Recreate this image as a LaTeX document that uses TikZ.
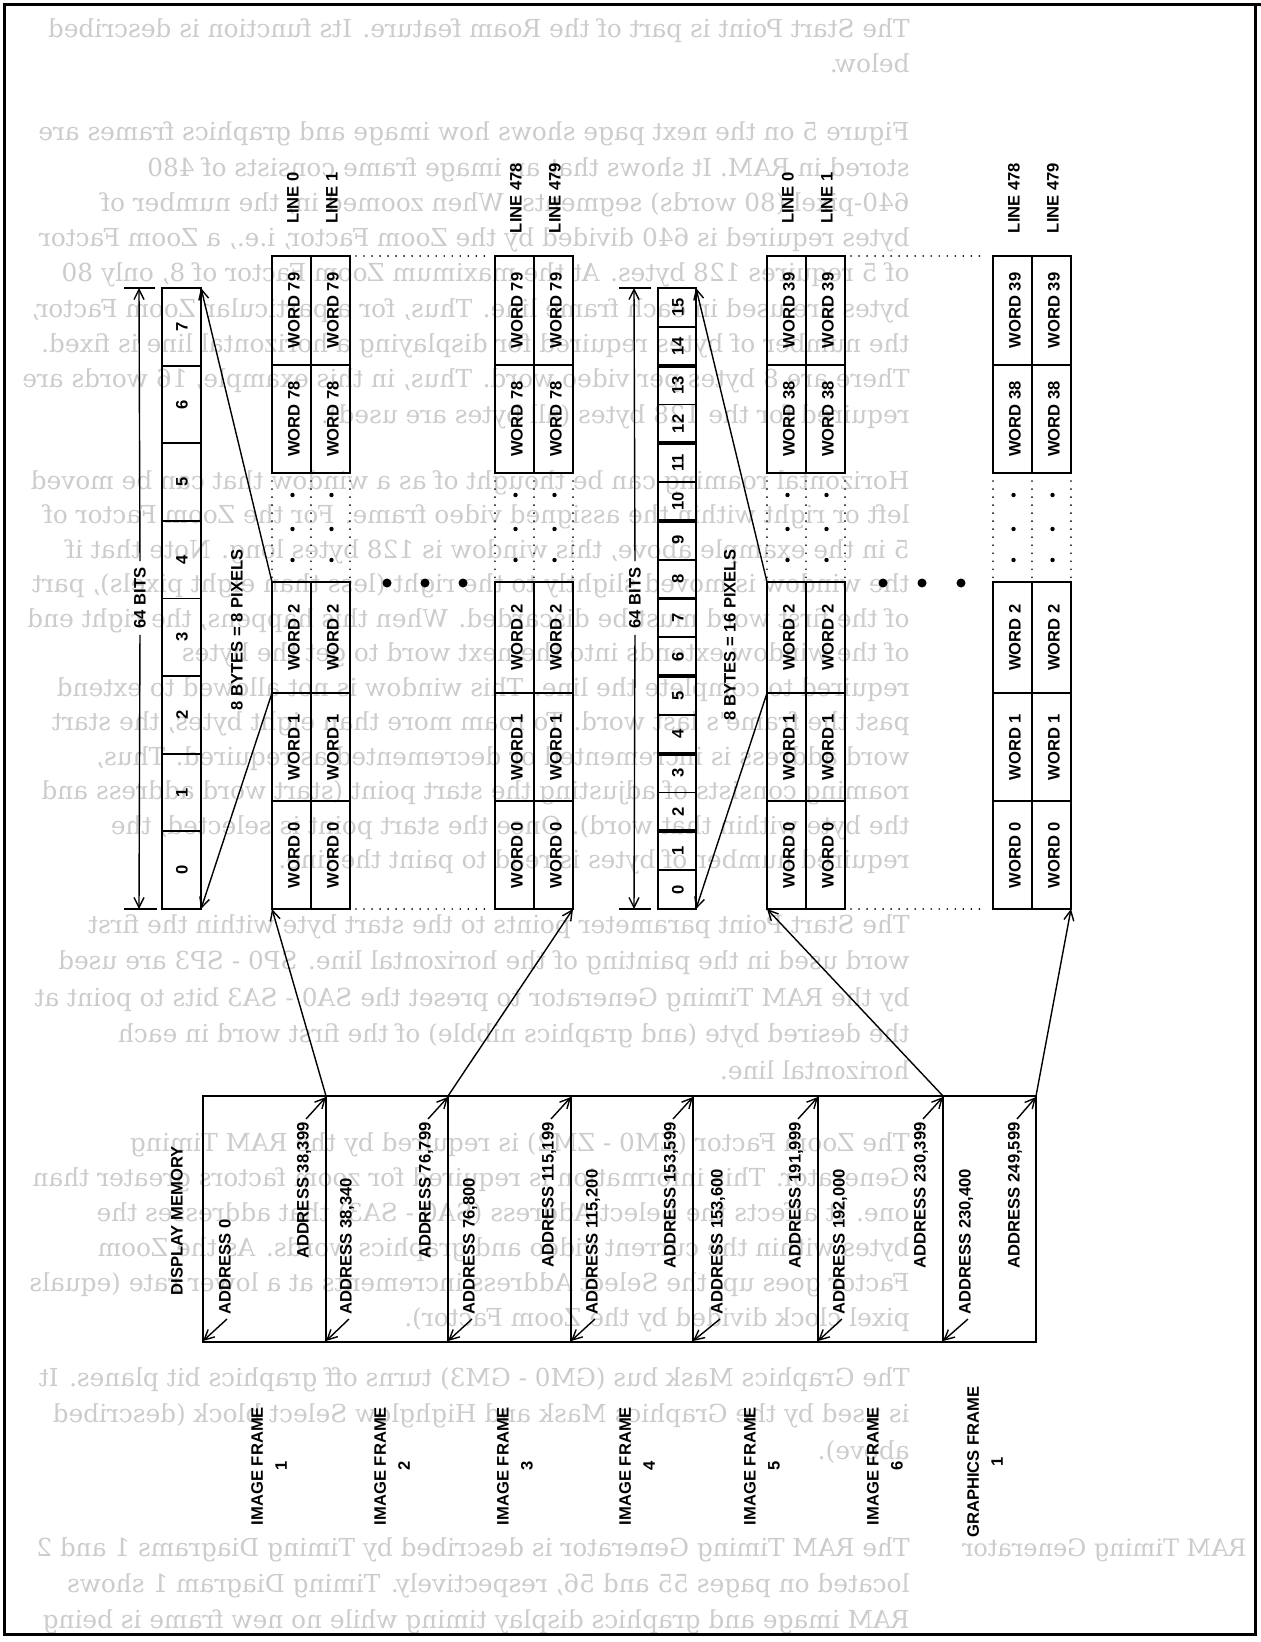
\documentclass[tikz,border=0pt]{standalone}
\usepackage{fontspec}
\setsansfont{Liberation Sans}
\newfontfamily\ghostfont{DejaVu Serif}
\usetikzlibrary{arrows.meta}

\newcommand\ghostpar[4]{\foreach \gl [count=\gi] in {#4} {\node[ghost] (#1\gi) at (910,{#2+(\gi-1)*#3}) {\gl};}}

\newcommand\wgroup[6]{%
\begin{scope}[shift={(#2,0)}]
  \draw[boxl] (0,256) rectangle (78,473);
  \draw[boxl] (0,582) rectangle (78,909);
  \draw[boxl] (39,256) -- (39,473) (39,582) -- (39,909);
  \draw[boxl] (0,365) -- (78,365) (0,693) -- (78,693) (0,801) -- (78,801);
  \draw[dotl] (0,473) -- (0,582) (39,473) -- (39,582) (78,473) -- (78,582);
  \node[lbl] (#1la) at (21,198) {#3};
  \node[lbl] (#1lb) at (60,198) {#4};
  \foreach \c/\cx in {a/22,b/61} {
    \node[lbl] (#1\c w1) at (\cx,310.5) {WORD #5};
    \node[lbl] (#1\c w2) at (\cx,419) {WORD #6};
    \node[lbl] (#1\c w3) at (\cx,637.5) {WORD 2};
    \node[lbl] (#1\c w4) at (\cx,747) {WORD 1};
    \node[lbl] (#1\c w5) at (\cx,855) {WORD 0};
  }
  \foreach \c/\cx in {a/20.5,b/59.5} \foreach \dy [count=\k] in {495,529,560}
    \node[smalldot] (#1d\c\k) at (\cx,\dy) {};
\end{scope}}

\begin{document}
\begin{tikzpicture}[x=0.5pt,y=-0.5pt,
  lbl/.style={font=\sffamily\bfseries\fontsize{8.3}{12}\selectfont, inner sep=0pt, rotate=90},
  boxl/.style={line width=0.9pt},
  bytel/.style={line width=1.9pt},
  dotl/.style={line width=0.9pt, dash pattern=on 0.01pt off 4pt, line cap=round},
  arr/.style={line width=0.7pt, -{Straight Barb[length=5pt,width=5pt]}},
  ghost/.style={font=\ghostfont\fontsize{12.4}{14}\selectfont, text=black!20, inner sep=0pt, xscale=-1, anchor=base west},
  smalldot/.style={fill=black, inner sep=0pt, minimum size=2.2pt, circle},
  bigdot/.style={fill=black, inner sep=0pt, minimum size=4.5pt, circle}]

\useasboundingbox (0,0) rectangle (1261,1642);
\fill[white] (0,0) rectangle (1261,1642);

% ---------- faint show-through text (mirrored) ----------
\ghostpar{pa}{38}{35}{{The Start Point is part of the Roam feature.  Its function is described},{below.}}
\ghostpar{pb}{141}{35.25}{{Figure 5 on the next page shows how image and graphics frames are},{stored in RAM.  It shows that an image frame consists of 480},{640-pixel (80 words) segments.  When zoomed in, the number of},{bytes required is 640 divided by the Zoom Factor, i.e., a Zoom Factor},{of 5 requires 128 bytes.  At the maximum Zoom Factor of 8, only 80},{bytes are used in each frame line.  Thus, for a particular Zoom Factor,},{the number of bytes required for displaying a horizontal line is fixed.},{There are 8 bytes per video word.  Thus, in this example, 16 words are},{required for the 128 bytes (all bytes are used).}}
\ghostpar{pc}{489}{34.5}{{Horizontal roaming can be thought of as a window that can be moved},{left or right within the assigned video frame.  For the Zoom Factor of},{5 in the example above, this window is 128 bytes long.  Note that if},{the window is moved slightly to the right (less than eight pixels), part},{of the first word must be discarded.  When this happens, the right end},{of the window extends into the next word to get the bytes},{required to complete the line.  This window is not allowed to extend},{past the frame's last word.  To roam more than eight bytes, the start},{word address is incremented or decremented as required.  Thus,},{roaming consists of adjusting the start point (start word address and},{the byte within that word).  Once the start point is selected, the},{required number of bytes is read to paint the line.}}
\ghostpar{pd}{933}{36.5}{{The Start Point parameter points to the start byte within the first},{word used in the painting of the horizontal line.  SP0 - SP3 are used},{by the RAM Timing Generator to preset the SA0 - SA3 bits to point at},{the desired byte (and graphics nibble) of the first word in each},{horizontal line.}}
\ghostpar{pe}{1151}{35}{{The Zoom Factor (ZM0 - ZM2) is required by the RAM Timing},{Generator.  This information is required for zoom factors greater than},{one.  It affects the Select Address (SA0 - SA3) that addresses the},{bytes within the current video and graphics words.  As the Zoom},{Factor goes up, the Select Address increments at a lower rate (equals},{pixel clock divided by the Zoom Factor).}}
\ghostpar{pf}{1386}{36.5}{{The Graphics Mask bus (GM0 - GM3) turns off graphics bit planes.  It},{is used by the Graphics Mask and Highglow Select block (described},{above).}}
\ghostpar{pg}{1556}{36}{{The RAM Timing Generator is described by Timing Diagrams 1 and 2},{located on pages 55 and 56, respectively.  Timing Diagram 1 shows},{RAM image and graphics display timing while no new frame is being}}
\node[ghost, font=\ghostfont\fontsize{12}{14}\selectfont] (side) at (1247,1556) {RAM Timing Generator};

% ---------- page frame ----------
\draw[line width=1.5pt] (4,5) rectangle (1255,1634);
\draw[line width=1.5pt] (1255,5) -- (1261,5);

% ---------- image: 8 bytes box ----------
\draw[boxl] (162,288) rectangle (201,909);
\foreach \k in {1,...,7} \draw[boxl] (162,{288+\k*77.625}) -- (201,{288+\k*77.625});
\foreach \k in {0,...,7} \node[lbl] (ib\k) at (182,{909-(\k+0.5)*77.625}) {\k};
\coordinate (ibtr) at (201,288);
\coordinate (ibbr) at (201,909);

% 64 bits dimension (image)
\draw[boxl] (124,288) -- (155,288);
\draw[boxl] (124,909) -- (157,909);
\coordinate (i64t) at (139,288);
\coordinate (i64b) at (139,909);
\node[lbl] (i64) at (140,598) {64 BITS};
\draw[arr, shorten <=3pt] (i64.east) -- (i64t);
\draw[arr, shorten <=3pt] (i64.west) -- (i64b);
\node[lbl] (ipx) at (237,630) {8 BYTES = 8 PIXELS};

% ---------- image word columns ----------
\wgroup{ia}{272}{LINE 0}{LINE 1}{79}{78}
\wgroup{ic}{495}{LINE 478}{LINE 479}{79}{78}
\draw[dotl] (356,256) -- (489,256);
\draw[dotl] (356,909) -- (489,909);
\node[bigdot] (ibd1) at (387,583) {};
\node[bigdot] (ibd2) at (425,583) {};
\node[bigdot] (ibd3) at (463,583) {};
\coordinate (iaw2t) at (272,582);
\coordinate (iaw2b) at (272,693);
\draw[arr] (iaw2t) -- (ibtr);
\draw[arr] (iaw2b) -- (ibbr);

% ---------- graphics: 16 nibble box ----------
\draw[boxl] (658,288) rectangle (696,909);
\foreach \k in {1,...,15} {
  \pgfmathparse{int(mod(\k,2))}
  \ifnum\pgfmathresult=0
    \draw[bytel] (658,{288+\k*38.8125}) -- (696,{288+\k*38.8125});
  \else
    \draw[boxl] (658,{288+\k*38.8125}) -- (696,{288+\k*38.8125});
  \fi
}
\foreach \k in {0,...,15} \node[lbl] (gb\k) at (678,{909-(\k+0.5)*38.8125}) {\k};
\coordinate (gbtr) at (696,288);
\coordinate (gbbr) at (696,909);

\draw[boxl] (619,288) -- (651,288);
\draw[boxl] (619,909) -- (651,909);
\coordinate (g64t) at (634,288);
\coordinate (g64b) at (634,909);
\node[lbl] (g64) at (635,598) {64 BITS};
\draw[arr, shorten <=3pt] (g64.east) -- (g64t);
\draw[arr, shorten <=3pt] (g64.west) -- (g64b);
\node[lbl] (gpx) at (730,635) {8 BYTES = 16 PIXELS};

% ---------- graphics word columns ----------
\wgroup{ga}{767}{LINE 0}{LINE 1}{39}{38}
\wgroup{gc}{993}{LINE 478}{LINE 479}{39}{38}
\draw[dotl] (851,256) -- (987,256);
\draw[dotl] (851,909) -- (987,909);
\node[bigdot] (gbd1) at (883,583) {};
\node[bigdot] (gbd2) at (922,583) {};
\node[bigdot] (gbd3) at (961,583) {};
\coordinate (gaw2t) at (767,582);
\coordinate (gaw2b) at (767,693);
\draw[arr] (gaw2t) -- (gbtr);
\draw[arr] (gaw2b) -- (gbbr);

% ---------- display memory address box ----------
\draw[line width=1.1pt] (203,1096) rectangle (1036,1342);
\foreach \d in {326,448,571,693,818,943} \draw[boxl] (\d,1096) -- (\d,1342);
\node[lbl] (dm) at (177,1221) {DISPLAY MEMORY};

\foreach \n/\tx/\dv/\txt in {t1/304/326/38{,}399, t2/426/448/76{,}799, t3/549/571/115{,}199, t4/671/693/153{,}599, t5/796/818/191{,}999, t6/921/943/230{,}399, t7/1015/1036/249{,}599} {
  \node[lbl, anchor=east] (\n) at (\tx,1122) {ADDRESS \txt};
  \coordinate (\n c) at (\dv,1097);
  \draw[arr] (\n.east) ++(2,-3) -- (\n c);
}
\foreach \n/\tx/\dv/\txt in {s1/225/203/0, s2/347/326/38{,}340, s3/470/448/76{,}800, s4/593/571/115{,}200, s5/718/693/153{,}600, s6/840/818/192{,}000, s7/966/943/230{,}400} {
  \node[lbl, anchor=west] (\n) at (\tx,1315) {ADDRESS \txt};
  \coordinate (\n c) at (\dv,1341);
  \draw[arr] (\n.west) ++(2,4) -- (\n c);
}

% long arrows from address box to the word columns
\coordinate (a1) at (326,1096);
\coordinate (a2) at (448,1096);
\coordinate (a6) at (943,1096);
\coordinate (a7) at (1036,1096);
\coordinate (iabl) at (272,909);
\coordinate (icbr) at (573,909);
\coordinate (gabl) at (767,909);
\coordinate (gcbr) at (1071,909);
\draw[arr] (a1) -- (iabl);
\draw[arr] (a2) -- (icbr);
\draw[arr] (a6) -- (gabl);
\draw[arr] (a7) -- (gcbr);

% ---------- frame labels ----------
\node[lbl, align=center] (if1) at (269,1466) {IMAGE FRAME\\1};
\node[lbl, align=center] (if2) at (392,1466) {IMAGE FRAME\\2};
\node[lbl, align=center] (if3) at (515,1466) {IMAGE FRAME\\3};
\node[lbl, align=center] (if4) at (637,1466) {IMAGE FRAME\\4};
\node[lbl, align=center] (if5) at (762,1466) {IMAGE FRAME\\5};
\node[lbl, align=center] (if6) at (885,1466) {IMAGE FRAME\\6};
\node[lbl, align=center] (gf1) at (985,1462) {GRAPHICS FRAME\\1};
\end{tikzpicture}
\end{document}
